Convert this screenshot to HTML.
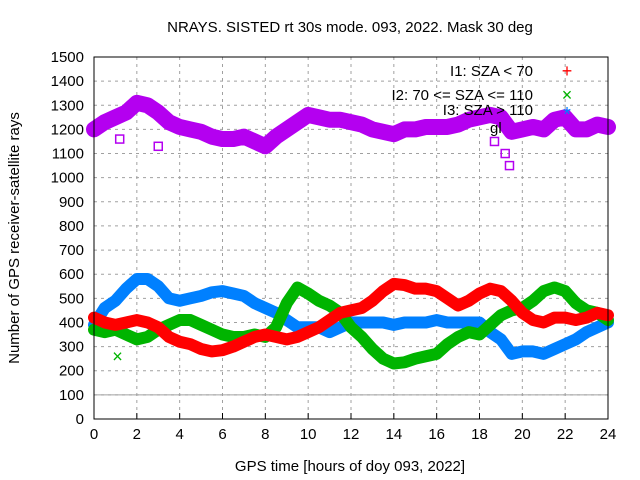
<!DOCTYPE html>
<html><head><meta charset="utf-8"><style>
body{margin:0;background:#fff}
svg{display:block;font-family:"Liberation Sans",sans-serif}
</style></head><body>
<svg id="chart" width="640" height="480"></svg>
<script>
const hours=[];for(let i=0;i<=48;i++)hours.push(i*0.5);
const seriesI1=[420,400,390,400,410,400,380,340,320,310,290,280,285,300,320,340,350,340,330,340,360,380,410,440,450,460,490,530,560,555,540,540,530,500,470,490,520,540,530,490,440,410,400,420,420,410,420,440,430];
const seriesI2=[370,360,370,350,330,340,370,390,410,410,390,370,350,340,340,350,340,380,480,545,520,490,470,440,380,340,290,250,230,235,250,260,270,310,340,360,350,390,430,450,460,490,530,545,530,480,450,440,410];
const seriesI3=[390,460,490,540,580,580,550,500,490,500,510,525,530,520,510,480,460,440,410,380,380,380,360,380,400,400,400,400,390,400,400,400,410,400,400,400,400,360,330,270,280,280,270,290,310,330,360,380,400];
const seriesGlobal=[1200,1230,1250,1270,1310,1300,1270,1230,1210,1200,1190,1170,1160,1160,1170,1150,1130,1170,1200,1230,1260,1250,1240,1240,1230,1220,1200,1190,1180,1200,1200,1210,1210,1210,1220,1240,1250,1260,1250,1190,1200,1210,1200,1240,1250,1200,1200,1220,1210];
const outlierGX=[1.2,3.0,18.7,19.2,19.4];
const outlierGY=[1160,1130,1150,1100,1050];
const xTicks=[0,2,4,6,8,10,12,14,16,18,20,22,24];
const yTicks=[0,100,200,300,400,500,600,700,800,900,1000,1100,1200,1300,1400,1500];
const L=94,R=608,T=57,B=419;
const sx=h=>L+h/24*(R-L), sy=v=>B-v/1500*(B-T);
const svg=document.getElementById('chart');const NS='http://www.w3.org/2000/svg';
function mk(t,a,txt){const e=document.createElementNS(NS,t);for(const k in a)e.setAttribute(k,a[k]);if(txt!=null)e.textContent=txt;svg.appendChild(e);return e;}
xTicks.forEach(t=>{if(t>0&&t<24){const l=mk('line',{x1:sx(t),x2:sx(t),y1:T,y2:B,stroke:'#a0a0a0','stroke-dasharray':'3,4'});}
 const k=mk('line',{x1:sx(t),x2:sx(t),y1:B,y2:B-6,stroke:'#000'});
 const tx=mk('text',{x:sx(t),y:B+20,'font-size':15,'text-anchor':'middle'},t);});
yTicks.forEach(t=>{if(t>0&&t<1500){const l=mk('line',{x1:L,x2:R,y1:sy(t),y2:sy(t),stroke:'#a0a0a0','stroke-dasharray':'3,4'});}
 const tx=mk('text',{x:L-10,y:sy(t)+5,'font-size':15,'text-anchor':'end'},t);});
const ref=mk('line',{x1:L,x2:R,y1:sy(100),y2:sy(100),stroke:'#a0a0a0','stroke-width':1});
function series(vals,col,name,w){const p=vals.map((v,i)=>sx(hours[i])+','+sy(v)).join(' ');
 const e=mk('polyline',{points:p,fill:'none',stroke:col,'stroke-width':w,'stroke-linejoin':'round','stroke-linecap':'round'});}
series(seriesGlobal,'#b400f0','series-global',16);
series(seriesI3,'#0080ff','series-i3',12);
series(seriesI2,'#00b400','series-i2',12);
series(seriesI1,'#ff0000','series-i1',12);
outlierGX.forEach((h,i)=>{const r=mk('rect',{x:sx(h)-4,y:sy(outlierGY[i])-4,width:8,height:8,fill:'none',stroke:'#b400f0','stroke-width':1.5});});
const o=mk('text',{x:sx(1.1),y:sy(260)+6,'font-size':18,fill:'#00b400','text-anchor':'middle'},'×');
const fr=mk('rect',{x:L,y:T,width:R-L,height:B-T,fill:'none',stroke:'#000'});
</script>
<svg width="640" height="480" style="position:absolute;left:0;top:0">
<text x="350" y="32" font-size="15" text-anchor="middle">NRAYS. SISTED rt 30s mode. 093, 2022. Mask 30 deg</text>
<text x="350" y="471" font-size="15" text-anchor="middle">GPS time [hours of doy 093, 2022]</text>
<text transform="translate(19,238) rotate(-90)" font-size="15" text-anchor="middle">Number of GPS receiver-satellite rays</text>
<g font-size="15" text-anchor="end">
<text x="533" y="76">I1: SZA &lt; 70</text>
<text x="567" y="77" fill="#ff0000" font-size="18" text-anchor="middle">+</text>
<text x="533" y="100">I2: 70 &lt;= SZA &lt;= 110</text>
<text x="567" y="101" fill="#00b400" font-size="18" text-anchor="middle">×</text>
<text x="533" y="115">I3: SZA &gt; 110</text>
<text x="567" y="121" fill="#0080ff" font-size="20" text-anchor="middle">*</text>
<text x="490" y="133" text-anchor="start">gl</text>
</g>
</svg>
</body></html>
